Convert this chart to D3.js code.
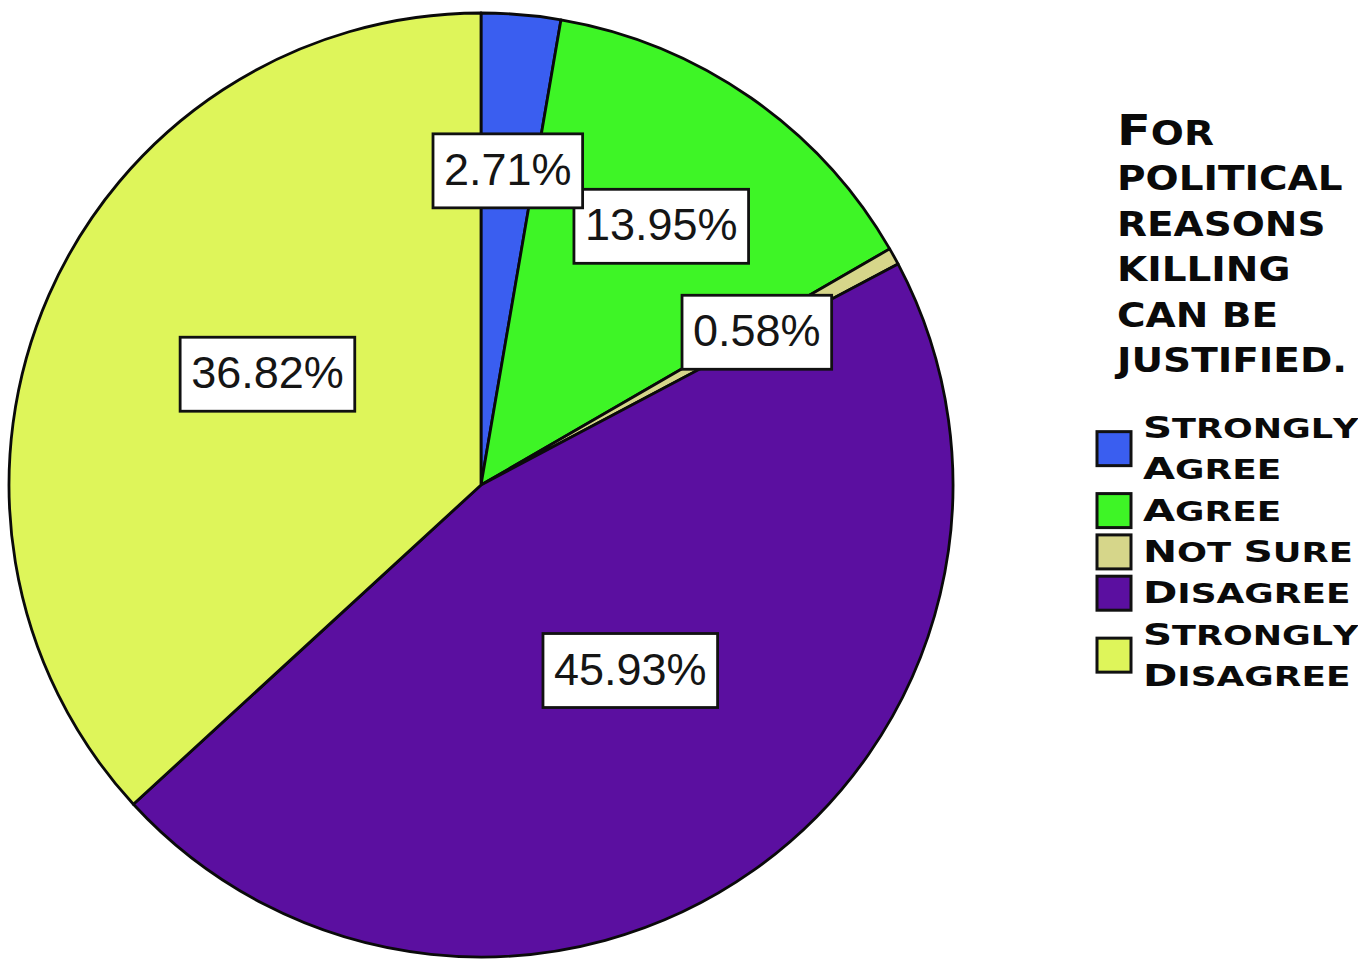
<!DOCTYPE html>
<html>
<head>
<meta charset="utf-8">
<script src="https://cdn.jsdelivr.net/npm/d3@7"></script>
<style>
  html, body { margin: 0; padding: 0; background: #ffffff; }
  svg { display: block; }
</style>
</head>
<body>
<svg id="chart" width="1358" height="967"></svg>
<script>
// ---- data ----
const categories = ["Strongly Agree", "Agree", "Not Sure", "Disagree", "Strongly Disagree"];
const values = [2.71, 13.95, 0.58, 45.93, 36.82];
const colors = ["#3a5ef0", "#3ef526", "#d6d68a", "#5b0fa0", "#def55a"];
const legendTitle = ["For", "political", "reasons", "killing", "can be", "justified."];
const legendLines = [["Strongly", "Agree"], ["Agree"], ["Not Sure"], ["Disagree"], ["Strongly", "Disagree"]];

// ---- layout ----
const cx = 481, cy = 485, R = 472;
const svg = d3.select("#chart");

const data = categories.map((c, i) => ({ cat: c, value: values[i], color: colors[i] }));
const pie = d3.pie().sort(null).value(d => d.value).startAngle(0).endAngle(2 * Math.PI);
const arcs = pie(data);
const arc = d3.arc().innerRadius(0).outerRadius(R);

const g = svg.append("g").attr("transform", `translate(${cx},${cy})`);
g.selectAll("path.slice")
  .data(arcs)
  .join("path")
  .attr("class", "slice")
  .attr("d", arc)
  .attr("fill", d => d.data.color)
  .attr("stroke", "#0a0a0a")
  .attr("stroke-width", 2.8)
  .attr("stroke-linejoin", "round");

// ---- value labels ----
const fmt = v => v.toFixed(2) + "%";
const labelG = g.append("g");
const labelData = arcs.slice().reverse();
labelData.forEach(d => {
  const mid = (d.startAngle + d.endAngle) / 2;
  const big = d.data.value >= 20;
  const rr = R * (big ? 0.515 : 0.668);
  const ox = big ? 9 : 0, oy = big ? -13 : 0;
  const x = ox + Math.sin(mid) * rr, y = oy - Math.cos(mid) * rr;
  const lg = labelG.append("g").attr("transform", `translate(${x},${y})`);
  const rect = lg.append("rect");
  const t = lg.append("text")
    .attr("text-anchor", "middle")
    .attr("y", 14)
    .attr("font-family", "'Liberation Sans', Arial, sans-serif")
    .attr("font-size", 45)
    .attr("fill", "#151515")
    .text(fmt(d.data.value));
  const w = t.node().getComputedTextLength() + 22;
  const h = 74;
  rect.attr("x", -w / 2).attr("y", -h / 2).attr("width", w).attr("height", h)
    .attr("fill", "#ffffff").attr("stroke", "#111").attr("stroke-width", 2.8);
});

// ---- legend ----
function smallCaps(textSel, str, big, small) {
  for (const ch of str) {
    const isUpper = ch !== ch.toLowerCase() && ch === ch.toUpperCase();
    textSel.append("tspan")
      .attr("font-size", isUpper ? big : small)
      .text(ch.toUpperCase());
  }
}

const legX = 1117;
const titleG = svg.append("g");
legendTitle.forEach((line, i) => {
  const by = 145 + i * 45.4;
  const t = titleG.append("text")
    .attr("font-family", "'DejaVu Sans', sans-serif")
    .attr("font-weight", "bold")
    .attr("fill", "#0a0a0a");
  smallCaps(t, line, 42, 33);
  const nat = t.node().getComputedTextLength();
  const sx = Math.min(1.18, (1352 - legX) / nat);
  t.attr("transform", `translate(${legX},${by}) scale(${sx},1)`);
});

const itemG = svg.append("g");
const itemX = 1143, itemRight = 1353;
let baseline = 438;
const lineH = 41.3;
legendLines.forEach((lines, i) => {
  const first = baseline;
  lines.forEach((ln, j) => {
    const t = itemG.append("text")
      .attr("font-family", "'DejaVu Sans', sans-serif")
      .attr("font-weight", "bold")
      .attr("fill", "#0a0a0a");
    smallCaps(t, ln, 30, 26);
    const nat = t.node().getComputedTextLength();
    const sx = Math.min(1.38, (itemRight - itemX) / nat);
    t.attr("transform", `translate(${itemX},${baseline}) scale(${sx},1)`);
    if (j < lines.length - 1) baseline += lineH;
  });
  const last = baseline;
  const centre = (first - 20 + last) / 2;
  itemG.append("rect")
    .attr("x", 1097).attr("y", centre - 17)
    .attr("width", 34).attr("height", 34)
    .attr("fill", colors[i])
    .attr("stroke", "#111").attr("stroke-width", 3);
  baseline += lineH;
});
</script>
</body>
</html>
